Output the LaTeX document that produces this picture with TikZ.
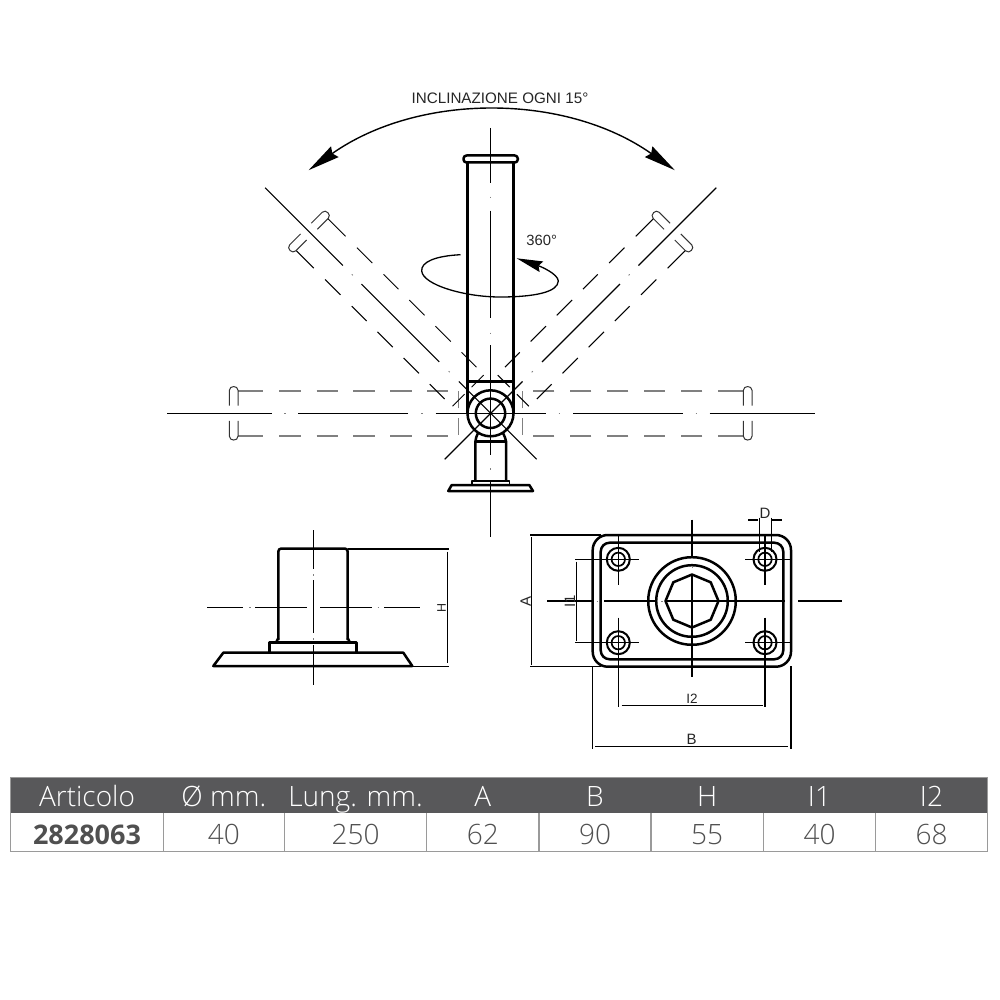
\documentclass[tikz,border=0pt]{standalone}
\usepackage{fontspec}
\setmainfont{Liberation Sans}
\newfontfamily\tablefont[UprightFont=* Light,BoldFont=* Bold]{Open Sans}
\usetikzlibrary{arrows.meta}
\definecolor{bandgray}{HTML}{58585A}
\definecolor{rulegray}{HTML}{9A9A9A}
\definecolor{textgray}{HTML}{505050}
\tikzset{
  outline/.style={black, line width=2.5pt, line join=round},
  thinline/.style={black, line width=1.1pt},
  dotmark/.style={gray, line width=0.9pt},
  dimtext/.style={font=\fontsize{15}{15}\selectfont, inner sep=0pt, text=black!85},
  headcell/.style={font=\tablefont\fontsize{28}{28}\selectfont, text=white, inner sep=0pt, anchor=base},
  bodycell/.style={font=\tablefont\fontsize{28}{28}\selectfont, text=textgray, inner sep=0pt, anchor=base},
}
\begin{document}
\begin{tikzpicture}[x=1pt, y=-1pt]
    \useasboundingbox (0,0) rectangle (1000,1000);
    \fill[white] (0,0) rectangle (1000,1000);

    % Tilt arc and title
    \draw[thinline, line width=1.4pt, {Stealth[length=32pt, width=13pt, inset=3pt]}-{Stealth[length=32pt, width=13pt, inset=3pt]}]
        (308.6,170.2) arc[start angle=-125.2, end angle=-54.8, radius=317.7];
    \node[font=\fontsize{15.2}{15.2}\selectfont, text=black!85, inner sep=0pt] (tilttitle) at (500,98.5) {INCLINAZIONE OGNI 15°};

    % Ghost tube positions
    \foreach \ang/\sft/\dcol/\dw in {0/0/gray/1.5, 180/0/gray/1.5, 45/-10/black/1.0, 135/-10/black/1.0} {
      \begin{scope}[shift={(490.7,413.3)}, rotate=\ang]
        \draw[thinline] ({55+\sft},0) -- ({-55+\sft},0);
        \draw[thinline] ({82.7+\sft},0) -- ({192.7+\sft},0);
        \draw[thinline] ({219+\sft},0) -- ({324+\sft*0.5},0);
        \draw[dotmark] ({68+\sft},0) -- ({69.5+\sft},0);
        \draw[dotmark] ({205+\sft},0) -- ({206.5+\sft},0);
        \foreach \sgn in {-1,1} {
          \foreach \ua/\ub in {252.7/227.7, 211.7/190, 174/153, 137.7/116, 100.7/79, 63.7/42.7}
            \draw[\dcol, line width=\dw pt] (\ua,{\sgn*22.5}) -- (\ub,{\sgn*22.5});
          \draw[\dcol, line width=\dw pt] (32,{\sgn*5}) -- (32,{\sgn*22});
          \draw[black!80, line width=1pt] (261.3,{\sgn*7.6}) -- (261.3,{\sgn*23})
              .. controls (261.3,{\sgn*28}) and (252.7,{\sgn*28}) .. (252.7,{\sgn*23}) -- (252.7,{\sgn*7.6});
        }
      \end{scope}
    }

    % Upright tube
    \draw[outline, rounded corners=3pt] (463.5,155.5) rectangle (517.8,162.5);
    \draw[outline] (467.7,162.5) -- (467.7,413.3);
    \draw[outline] (513.3,162.5) -- (513.3,413.3);
    \draw[outline] (467.7,381.7) -- (513.3,381.7);
    \draw[outline] (490.5,413.3) circle (23);
    \draw[outline] (490.5,413.3) circle (14.7);

    % Neck and foot
    \draw[outline] (478,433) .. controls (476.5,436) and (475.5,439) .. (475.3,442) -- (475.3,481);
    \draw[outline] (503,433) .. controls (504.5,436) and (505.8,439) .. (506.2,442) -- (506.2,481);
    \draw[outline] (475.3,441.7) -- (506.2,441.7);
    \draw[outline, line width=1.8pt] (472,485) -- (472,481) -- (509.5,481) -- (509.5,485);
    \draw[outline] (451.7,485) -- (529.3,485) -- (533,491) -- (448.3,491) -- cycle;

    % Upright axis
    \draw[thinline] (490.7,128) -- (490.7,183);
    \draw[thinline] (490.7,210.7) -- (490.7,318);
    \draw[thinline] (490.7,345) -- (490.7,455);
    \draw[thinline] (490.7,481.7) -- (490.7,537);
    \foreach \yd in {196.7,332.7,468}
      \draw[dotmark] (490.7,\yd) -- (490.7,{\yd+1.5});

    % Rotation arrow
    \draw[thinline, line width=1.3pt, -{Stealth[length=26pt, width=11pt, inset=3pt]}]
        (460.5,254.7) .. controls (435,256) and (421,262) .. (421.7,271)
        .. controls (423,285) and (465,297) .. (500,297)
        .. controls (535,297) and (558,292) .. (558.3,281)
        .. controls (558,274) and (541,266.6) .. (516.7,258.3);
    \node[font=\fontsize{14.8}{14.8}\selectfont, text=black!85, inner sep=0pt] (turnlabel) at (541.7,240.7) {360°};

    % Side view
    \draw[outline, rounded corners=3pt] (278.3,640) -- (278.3,548.5) -- (347.7,548.5) -- (347.7,640);
    \draw[outline] (278.3,638) -- (276,642.7) (347.7,638) -- (350,642.7);
    \draw[outline] (269.3,652.7) -- (269.3,642.7) -- (356.7,642.7) -- (356.7,652.7);
    \draw[outline] (223.3,652.7) -- (403.3,652.7) -- (412.3,666) -- (213.3,666) -- cycle;
    \draw[thinline] (313.3,530) -- (313.3,569);
    \draw[thinline] (313.3,580) -- (313.3,633);
    \draw[thinline] (313.3,645) -- (313.3,685);
    \draw[dotmark] (313.3,574) -- (313.3,575.5);
    \draw[dotmark] (313.3,638) -- (313.3,639.5);
    \draw[thinline] (207.3,607.7) -- (242.7,607.7);
    \draw[thinline] (255,607.7) -- (307.3,607.7);
    \draw[thinline] (320,607.7) -- (372.3,607.7);
    \draw[thinline] (384.3,607.7) -- (420,607.7);
    \draw[dotmark] (249,607.7) -- (250.5,607.7);
    \draw[dotmark] (377.5,607.7) -- (379,607.7);

    % Height dimension
    \draw[thinline] (347.7,549) -- (449.3,549);
    \draw[thinline] (412.3,666.3) -- (449.3,666.3);
    \draw[thinline] (447.7,551.7) -- (447.7,663.3);
    \node[dimtext, font=\fontsize{12.5}{12.5}\selectfont, rotate=90] (dimH) at (441.5,607.7) {H};

    % Base plate seen from above
    \draw[outline, rounded corners=15pt] (592.7,535) rectangle (791,666.7);
    \draw[outline, rounded corners=9pt] (600.7,542.7) rectangle (783.3,659.3);
    \draw[outline] (692,601) circle (43.8);
    \draw[outline] (692,601) circle (35.8);
    \draw[outline] (692,574.5) -- (710.7,582.3) -- (718.5,601) -- (710.7,619.7) -- (692,627.5) -- (673.3,619.7) -- (665.5,601) -- (673.3,582.3) -- cycle;

    % Fixing holes
    \foreach \xh/\yh in {618.3/559.3, 765/559.3, 618.3/642.7, 765/642.7} {
      \draw[outline, line width=2pt] (\xh,\yh) circle (11.5);
      \draw[outline, line width=1.7pt] (\xh,\yh) circle (6.7);
    }
    \draw[thinline] (575,559.3) -- (639,559.3);
    \draw[thinline] (575,642.7) -- (639,642.7);
    \draw[thinline] (745,559.3) -- (790,559.3);
    \draw[thinline] (745,642.7) -- (790,642.7);
    \draw[thinline] (618.3,535) -- (618.3,585);
    \draw[thinline] (765,535.7) -- (765,585);
    \draw[thinline] (618.3,617.7) -- (618.3,706.7);
    \draw[thinline] (765,617.7) -- (765,706.7);

    % Plate axes
    \draw[thinline] (692,519.5) -- (692,558);
    \draw[thinline] (692,575) -- (692,676.7);
    \draw[thinline] (547,601) -- (591.7,601);
    \draw[thinline] (604.3,601) -- (656.7,601);
    \draw[thinline] (666,601) -- (785,601);
    \draw[thinline] (798,601) -- (841.7,601);
    \draw[dotmark] (596.5,601) -- (598,601);
    \draw[dotmark] (661,601) -- (662.5,601);
    \draw[dotmark] (692,566) -- (692,567.5);

    % Plate dimensions
    \draw[thinline] (530,535) -- (601,535);
    \draw[thinline] (530,666.7) -- (601,666.7);
    \draw[thinline] (531.7,537) -- (531.7,665);
    \node[dimtext, rotate=90] (dimA) at (525.7,601) {A};
    \draw[thinline] (576.7,561.7) -- (576.7,640.7);
    \node[dimtext, rotate=90] (dimIone) at (570,601) {I1};
    \draw[thinline] (621.7,705.7) -- (763.3,705.7);
    \node[dimtext, font=\fontsize{13.5}{13.5}\selectfont] (dimItwo) at (692,698.7) {I2};
    \draw[thinline] (592.7,666) -- (592.7,748.7);
    \draw[thinline] (791,666) -- (791,748.7);
    \draw[thinline] (595,746.7) -- (788,746.7);
    \node[dimtext] (dimB) at (691.7,739.3) {B};
    \draw[thinline] (759.3,517.7) -- (759.3,551.7);
    \draw[thinline] (771.7,517.7) -- (771.7,551.7);
    \draw[thinline] (748.3,520) -- (758.3,520);
    \draw[thinline] (771.7,520) -- (782.3,520);
    \node[dimtext] (dimD) at (765,513.3) {D};

    % Table
    \fill[bandgray] (10.7,777.7) rectangle (987.3,813.3);
    \draw[rulegray, line width=1.2pt] (10.7,777.7) rectangle (987.3,851.7);
    \foreach \xa/\xb/\nm/\head/\val in {10.7/163.3/art/Articolo/{\fontsize{27}{27}\selectfont\bfseries 2828063}, 163.3/284.3/dia/Ø mm./40, 284.3/426.7/len/Lung. mm./250, 426.7/539/colA/A/62, 539/651/colB/B/90, 651/763.3/colH/H/55, 763.3/875.7/colI/I1/40, 875.7/987.3/colJ/I2/68} {
      \draw[rulegray, line width=1.2pt] (\xa,813.3) -- (\xa,851.7);
      \node[headcell] (head\nm) at ({(\xa+\xb)/2},806.7) {\head};
      \node[bodycell] (cell\nm) at ({(\xa+\xb)/2},844.7) {\val};
    }
\end{tikzpicture}
\end{document}
